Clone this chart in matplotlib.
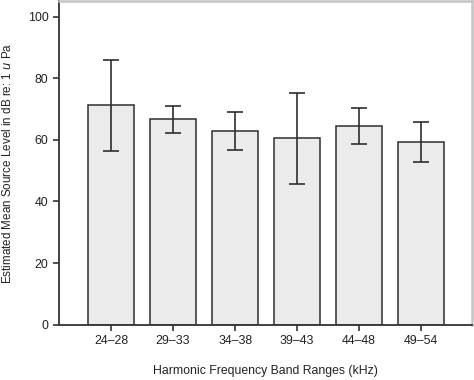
import matplotlib
matplotlib.use("Agg")
import matplotlib.pyplot as plt
import numpy as np

plt.rcParams['font.family'] = ['Liberation Sans', 'DejaVu Sans']

categories = ["24\u201328", "29\u201333", "34\u201338", "39\u201343", "44\u201348", "49\u201354"]
means = [71.2, 66.6, 62.9, 60.5, 64.6, 59.4]
errors = [14.7, 4.35, 6.25, 14.75, 5.85, 6.5]
yticks = [0, 20, 40, 60, 80, 100]

fig = plt.figure(figsize=(4.74, 3.80), dpi=100)
ax = fig.add_axes([0.1245, 0.1455, 0.8713, 0.8515])

x = np.arange(len(categories))
ax.bar(x, means, width=0.75, color='#ebebeb', edgecolor='#2e2e2e', linewidth=1.1, zorder=2)
ax.errorbar(x, means, yerr=errors, fmt='none', ecolor='#2e2e2e', elinewidth=1.2,
            capsize=6, capthick=1.2, zorder=3)

ax.set_xlim(-0.84, 5.82)
ax.set_ylim(0, 105)
ax.set_xticks(x)
ax.set_xticklabels(categories)
ax.set_yticks(yticks)
ax.tick_params(axis='both', labelsize=8.9, colors='#222222', width=1.1, length=4.5, pad=3)

for s in ['left', 'bottom']:
    ax.spines[s].set_color('#333333')
    ax.spines[s].set_linewidth(1.3)
for s in ['top', 'right']:
    ax.spines[s].set_color('#c4c4c4')
    ax.spines[s].set_linewidth(1.8)

ax.set_xlabel("Harmonic Frequency Band Ranges (kHz)", fontsize=8.8, color='#222222', labelpad=13)
ax.set_ylabel("Estimated Mean Source Level in dB re: 1 $\\mathit{u}$ Pa", fontsize=8.4,
              color='#222222', labelpad=10)

fig.savefig("out.png", dpi=100)
